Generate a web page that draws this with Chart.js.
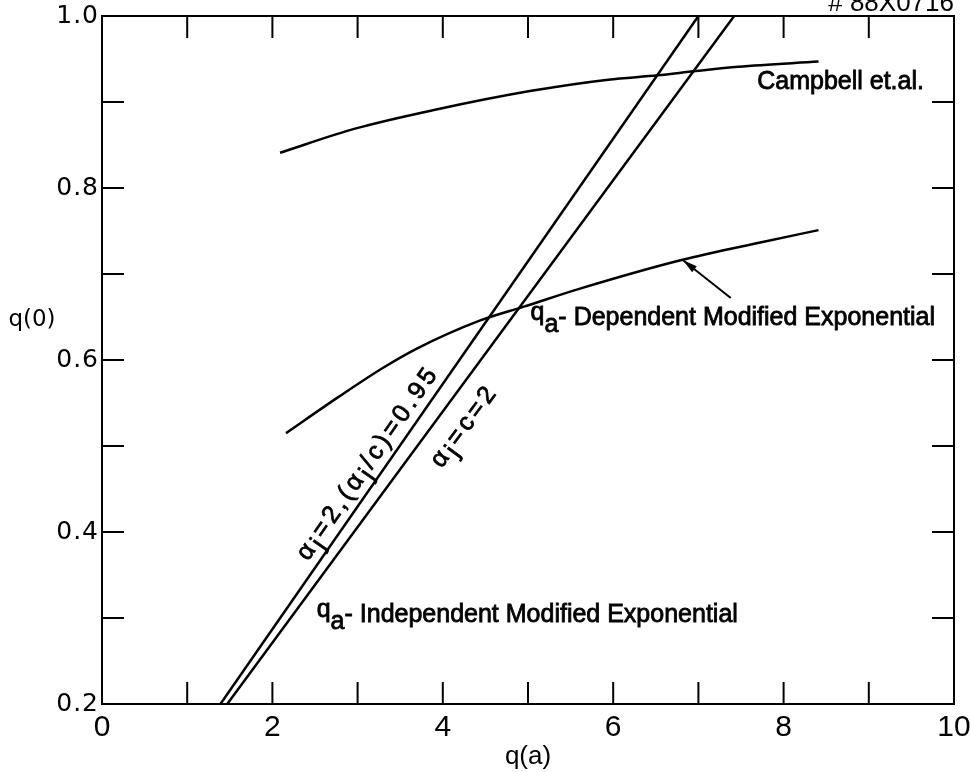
<!DOCTYPE html>
<html>
<head>
<meta charset="utf-8">
<script src="https://cdn.jsdelivr.net/npm/chart.js@4.4.0/dist/chart.umd.min.js"></script>
<style>html,body{margin:0;padding:0;background:#fff}canvas{display:block}</style>
</head>
<body>
<canvas id="grafico" width="970" height="772"></canvas>
<script>
// --- valores ---
var campbellQa=[2.09,2.97,3.91,5.04,5.94,6.52,6.97,7.47,8.41];
var campbellQ0=[0.841,0.869,0.891,0.913,0.926,0.931,0.936,0.941,0.947];
var depQa=[2.16,2.79,3.30,3.69,4.44,4.95,5.61,6.79,7.74,8.41];
var depQ0=[0.515,0.558,0.591,0.613,0.646,0.662,0.683,0.716,0.737,0.751];
var lineaAQa=[1.39,7.00];
var lineaAQ0=[0.2,1.0];
var lineaBQa=[1.47,7.42];
var lineaBQ0=[0.2,1.0];
var xEtiquetas=['0','2','4','6','8','10'];
var yEtiquetas=['0.2','0.4','0.6','0.8','1.0'];

var FAM="'Liberation Sans',Arial,sans-serif";
var FAM_N="'Liberation Sans Narrow','Liberation Sans',Arial,sans-serif";

function puntos(xs,ys){return xs.map(function(x,i){return {x:x,y:ys[i]};});}

// anotaciones (coordenadas en unidades de los ejes)
var notas={
  campbell:{q:7.69,v:0.915},
  dep:{q:5.03,v:0.6407},
  indep:{q:2.52,v:0.2953},
  lineaA:{q:3.19,v:0.4756},
  lineaB:{q:4.32,v:0.5186},
  flechaDesde:{q:7.38,v:0.672},
  flechaHasta:{q:6.82,v:0.716}
};

function textoRico(ctx,partes,x,y,ang,tam,esp,centrar){
  ctx.save();
  ctx.translate(x,y);ctx.rotate(ang);
  ctx.font=tam+'px '+FAM;
  ctx.letterSpacing=esp+'px';
  ctx.textBaseline='alphabetic';ctx.textAlign='left';
  ctx.lineWidth=0.8;ctx.strokeStyle='#000';
  var w=0;
  partes.forEach(function(p){w+=ctx.measureText(p.t).width;});
  var cx=centrar?-w/2:0;
  partes.forEach(function(p){
    ctx.fillText(p.t,cx,p.dy||0);ctx.strokeText(p.t,cx,p.dy||0);
    cx+=ctx.measureText(p.t).width;
  });
  ctx.restore();
}

var marcoPlugin={
  id:'marco',
  afterDatasetsDraw:function(ch){
    var ctx=ch.ctx,a=ch.chartArea,sx=ch.scales.x,sy=ch.scales.y;
    ctx.save();
    ctx.strokeStyle='#000';ctx.fillStyle='#000';ctx.lineWidth=2;
    ctx.strokeRect(a.left,a.top,a.right-a.left,a.bottom-a.top);
    ctx.beginPath();
    sx.ticks.forEach(function(t){
      var px=sx.getPixelForValue(t.value);
      ctx.moveTo(px,a.bottom);ctx.lineTo(px,a.bottom-22);
      ctx.moveTo(px,a.top);ctx.lineTo(px,a.top+22);
    });
    sy.ticks.forEach(function(t){
      var py=sy.getPixelForValue(t.value);
      ctx.moveTo(a.left,py);ctx.lineTo(a.left+22,py);
      ctx.moveTo(a.right,py);ctx.lineTo(a.right-22,py);
    });
    ctx.stroke();

    // etiquetas del eje y (anchas, como en el original)
    ctx.font='25px "DejaVu Sans"';ctx.letterSpacing='1px';
    ctx.textAlign='right';ctx.textBaseline='middle';
    sy.ticks.forEach(function(t){
      var s=(Math.round(t.value*10)/10).toFixed(1);
      if(yEtiquetas.indexOf(s)<0)return;
      ctx.fillText(s,a.left-4+1,sy.getPixelForValue(t.value));
    });
    ctx.letterSpacing='0px';

    function P(n){return {x:sx.getPixelForValue(n.q),y:sy.getPixelForValue(n.v)};}
    function angulo(xs,ys){
      var x1=sx.getPixelForValue(xs[0]),y1=sy.getPixelForValue(ys[0]);
      var x2=sx.getPixelForValue(xs[1]),y2=sy.getPixelForValue(ys[1]);
      return Math.atan2(y2-y1,x2-x1);
    }

    // flecha
    var f1=P(notas.flechaDesde),f2=P(notas.flechaHasta);
    ctx.lineWidth=2;
    ctx.beginPath();ctx.moveTo(f1.x,f1.y);ctx.lineTo(f2.x,f2.y);ctx.stroke();
    var ang=Math.atan2(f2.y-f1.y,f2.x-f1.x);
    ctx.beginPath();
    ctx.moveTo(f2.x,f2.y);
    ctx.lineTo(f2.x-15*Math.cos(ang-0.25),f2.y-15*Math.sin(ang-0.25));
    ctx.lineTo(f2.x-15*Math.cos(ang+0.25),f2.y-15*Math.sin(ang+0.25));
    ctx.closePath();ctx.fill();

    var p;
    p=P(notas.campbell);
    textoRico(ctx,[{t:'Campbell et.al.'}],p.x,p.y,0,25,0,false);
    p=P(notas.dep);
    textoRico(ctx,[{t:'q',dy:-5},{t:'a',dy:7},{t:'- Dependent Modified Exponential'}],p.x,p.y,0,25,0,false);
    p=P(notas.indep);
    textoRico(ctx,[{t:'q',dy:-5},{t:'a',dy:7},{t:'- Independent Modified Exponential'}],p.x,p.y,0,25,0,false);
    p=P(notas.lineaA);
    textoRico(ctx,[{t:'α'},{t:'j',dy:6},{t:'=2,('},{t:'α'},{t:'j',dy:6},{t:'/c)=0.95'}],p.x,p.y,angulo(lineaAQa,lineaAQ0),25,3.5,true);
    p=P(notas.lineaB);
    textoRico(ctx,[{t:'α'},{t:'j',dy:6},{t:'=c=2'}],p.x,p.y,angulo(lineaBQa,lineaBQ0),25,3.5,true);

    // titulos de ejes
    ctx.font='23px "DejaVu Sans"';
    ctx.textAlign='center';ctx.textBaseline='middle';
    ctx.fillText('q(0)',a.left-70,sy.getPixelForValue(0.647));
    ctx.font='26px '+FAM_N;
    ctx.fillText('q(a)',sx.getPixelForValue(5),757);
    ctx.textAlign='right';ctx.textBaseline='alphabetic';
    ctx.fillText('# 88X0716',a.right,11);
    ctx.restore();
  }
};

function serie(xs,ys,curva){
  return {data:puntos(xs,ys),showLine:true,borderColor:'#000',borderWidth:2.5,pointRadius:0,fill:false,
    tension:curva?0.4:0,cubicInterpolationMode:curva?'monotone':'default'};
}

new Chart(document.getElementById('grafico'),{
  type:'scatter',
  data:{datasets:[
    serie(campbellQa,campbellQ0,true),
    serie(depQa,depQ0,true),
    serie(lineaAQa,lineaAQ0,false),
    serie(lineaBQa,lineaBQ0,false)
  ]},
  options:{
    responsive:false,animation:false,
    layout:{padding:{top:16,right:16,left:0,bottom:0}},
    plugins:{legend:{display:false},tooltip:{enabled:false}},
    scales:{
      x:{type:'linear',min:0,max:10,
        grid:{display:false,drawTicks:false},border:{display:false},
        ticks:{stepSize:1,padding:6,color:'#000',maxRotation:0,autoSkip:false,font:{family:FAM_N,size:30},
          callback:function(v){var i=xEtiquetas.indexOf(String(Math.round(v)));return (Math.abs(v-Math.round(v))<1e-6&&i>=0)?xEtiquetas[i]:'';}},
        afterFit:function(s){s.height=68;s.paddingLeft=0;s.paddingRight=0;}
      },
      y:{type:'linear',min:0.2,max:1.0,
        grid:{display:false,drawTicks:false},border:{display:false},
        ticks:{stepSize:0.1,display:false},
        afterFit:function(s){s.width=102;s.paddingTop=0;s.paddingBottom=0;}
      }
    }
  },
  plugins:[marcoPlugin]
});
</script>
</body>
</html>
